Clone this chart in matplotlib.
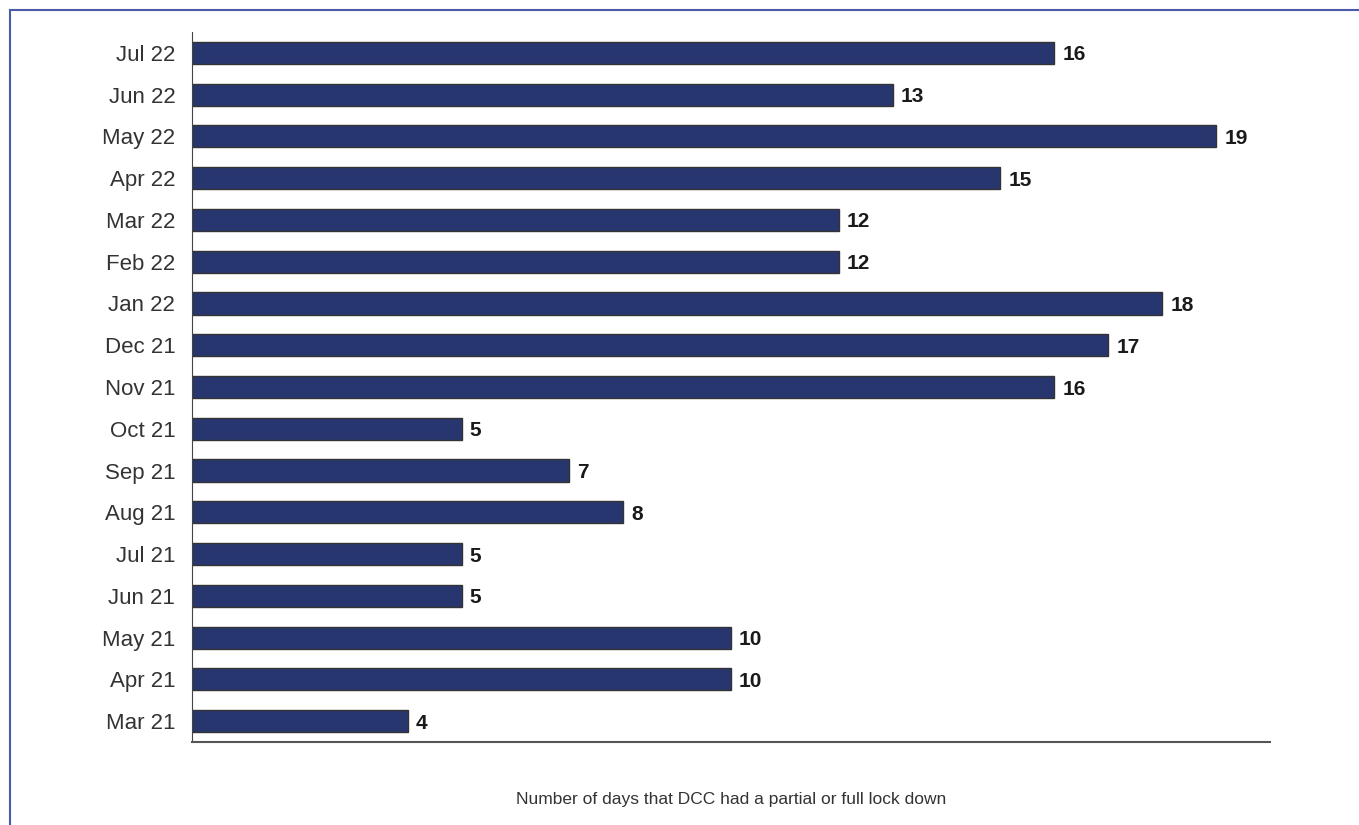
import matplotlib.pyplot as plt
from matplotlib.patches import Rectangle

# Monthly lock down days
months = ["Mar 21", "Apr 21", "May 21", "Jun 21", "Jul 21", "Aug 21", "Sep 21",
          "Oct 21", "Nov 21", "Dec 21", "Jan 22", "Feb 22", "Mar 22", "Apr 22",
          "May 22", "Jun 22", "Jul 22"]
days = [4, 10, 10, 5, 5, 8, 7, 5, 16, 17, 18, 12, 12, 15, 19, 13, 16]

plt.rcParams['font.family'] = ['Liberation Sans', 'DejaVu Sans']

fig = plt.figure(figsize=(13.59, 8.25), dpi=100)
ax = fig.add_axes([0.1413, 0.1006, 0.7932, 0.8606])

# frame around the whole chart
fig.patches.append(Rectangle((10 / 1359, -0.1), 1.2, 1 - 10 / 825 + 0.1,
                             transform=fig.transFigure, fill=False,
                             edgecolor="#4a5ca8", linewidth=1.5))

y = range(len(months))
bars = ax.barh(y, days, height=0.53, color="#28366f", edgecolor="#333333", linewidth=1)

for b, v in zip(bars, days):
    ax.text(b.get_width() + 0.15, b.get_y() + b.get_height() / 2, str(v),
            va="center_baseline", ha="left", fontsize=15, fontweight="bold",
            color="#1a1a1a")

ax.set_xlim(0, 20)
ax.set_ylim(-0.5, 16.5)
ax.set_yticks(list(y))
ax.set_yticklabels(months, fontsize=16, color="#333333")
ax.set_xticks([])
ax.tick_params(axis="y", length=0, pad=12)

ax.spines["top"].set_visible(False)
ax.spines["right"].set_visible(False)
ax.spines["left"].set_color("#444444")
ax.spines["bottom"].set_color("#555555")
ax.spines["bottom"].set_linewidth(1.5)

ax.set_xlabel("Number of days that DCC had a partial or full lock down",
              fontsize=12.5, color="#333333", labelpad=36)

fig.savefig("out.png", dpi=100)
